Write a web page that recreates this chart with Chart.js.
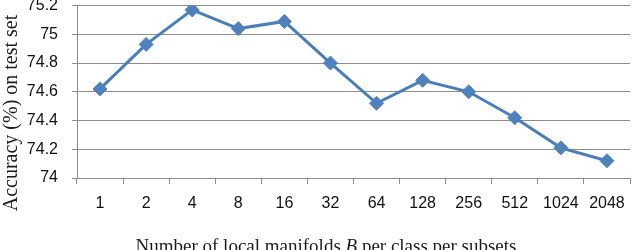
<!DOCTYPE html>
<html>
<head>
<meta charset="utf-8">
<script src="https://cdn.jsdelivr.net/npm/chart.js@4.4.0/dist/chart.umd.min.js"></script>
<style>
  html, body { margin: 0; padding: 0; background: #fff; overflow: hidden; }
  #wrap { position: absolute; left: 0; top: -18px; width: 638px; height: 280px; }
</style>
</head>
<body>
<div id="wrap"><canvas id="chart"></canvas></div>
<script>
// categories (local manifolds B) and accuracy values
const categorias = ["1", "2", "4", "8", "16", "32", "64", "128", "256", "512", "1024", "2048"];
const acuracia = [74.62, 74.93, 75.17, 75.04, 75.09, 74.80, 74.52, 74.68, 74.60, 74.42, 74.21, 74.12];
const yTicks = [74, 74.2, 74.4, 74.6, 74.8, 75, 75.2];

const tituloY = "Accuracy (%) on test set";
const tituloX = ["Number of local manifolds ", "B", " per class per subsets"];

const corLinha = "#4a7ebb";
const corGrade = "#8c8c8c";
const deslocamento = 18; // canvas is shifted up by this much (top of the original is cut)

// draws the axis titles (x title has an italic B)
const titulosPlugin = {
    id: "titulos",
    afterDraw(chart) {
        const ctx = chart.ctx;
        ctx.save();
        ctx.fillStyle = "#1a1a1a";
        ctx.textBaseline = "middle";

        // y title
        ctx.font = "20px 'Liberation Serif'";
        ctx.translate(12, 113 + deslocamento);
        ctx.rotate(-Math.PI / 2);
        ctx.textAlign = "center";
        ctx.fillText(tituloY, 0, 0);
        ctx.setTransform(1, 0, 0, 1, 0, 0);

        // x title
        const fontes = ["19px 'Liberation Serif'", "italic 19px 'Liberation Serif'", "19px 'Liberation Serif'"];
        let total = 0;
        const larguras = tituloX.map((t, i) => {
            ctx.font = fontes[i];
            const w = ctx.measureText(t).width;
            total += w;
            return w;
        });
        let x = 326 - total / 2;
        ctx.textAlign = "left";
        tituloX.forEach((t, i) => {
            ctx.font = fontes[i];
            ctx.fillText(t, x, 247 + deslocamento);
            x += larguras[i];
        });
        ctx.restore();
    }
};

const ctx = document.getElementById("chart").getContext("2d");
new Chart(ctx, {
    type: "line",
    data: {
        labels: categorias,
        datasets: [{
            data: acuracia,
            borderColor: corLinha,
            backgroundColor: "#4f81bd",
            borderWidth: 3,
            pointStyle: "rectRot",
            pointRadius: 7,
            pointBackgroundColor: "#4f81bd",
            pointBorderColor: "#4f81bd",
            pointBorderWidth: 1,
            tension: 0,
            fill: false
        }]
    },
    options: {
        responsive: true,
        maintainAspectRatio: false,
        animation: false,
        layout: { padding: { top: 0, right: 1, left: 0, bottom: 0 } },
        plugins: {
            legend: { display: false },
            tooltip: { enabled: false }
        },
        scales: {
            x: {
                offset: true,
                grid: {
                    offset: true,
                    drawOnChartArea: false,
                    drawTicks: true,
                    tickLength: 6,
                    color: corGrade
                },
                border: { color: corGrade, width: 1 },
                ticks: {
                    color: "#111",
                    font: { family: "'Liberation Sans'", size: 16 },
                    padding: 10,
                    maxRotation: 0,
                    autoSkip: false
                },
                afterFit: (scale) => { scale.height = 84; }
            },
            y: {
                min: 74,
                max: 75.2,
                afterBuildTicks: (scale) => {
                    scale.ticks = yTicks.map(v => ({ value: v }));
                },
                grid: {
                    color: corGrade,
                    drawTicks: true,
                    tickLength: 5
                },
                border: { color: corGrade, width: 1 },
                ticks: {
                    color: "#111",
                    font: { family: "'Liberation Sans'", size: 16 },
                    padding: 14,
                    callback: (v) => String(Math.round(v * 10) / 10)
                },
                afterFit: (scale) => { scale.width = 77; }
            }
        }
    },
    plugins: [titulosPlugin]
});
</script>
</body>
</html>
